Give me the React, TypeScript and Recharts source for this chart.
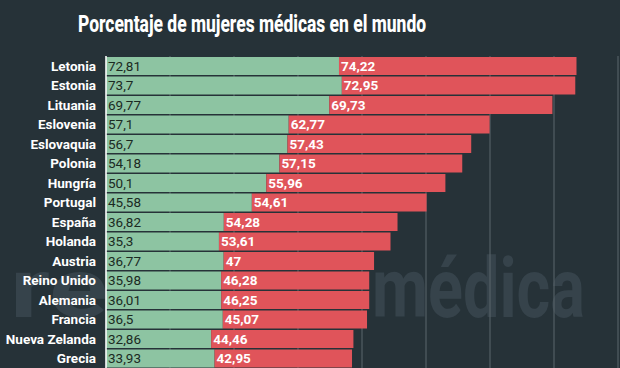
import { BarChart, Bar, XAxis, YAxis, CartesianGrid, LabelList } from 'recharts'

const countries = [
  'Letonia', 'Estonia', 'Lituania', 'Eslovenia', 'Eslovaquia', 'Polonia', 'Hungría', 'Portugal',
  'España', 'Holanda', 'Austria', 'Reino Unido', 'Alemania', 'Francia', 'Nueva Zelanda', 'Grecia',
]
const older = [72.81, 73.7, 69.77, 57.1, 56.7, 54.18, 50.1, 45.58, 36.82, 35.3, 36.77, 35.98, 36.01, 36.5, 32.86, 33.93]
const newer = [74.22, 72.95, 69.73, 62.77, 57.43, 57.15, 55.96, 54.61, 54.28, 53.61, 47, 46.28, 46.25, 45.07, 44.46, 42.95]
const xTicks = [0, 20, 40, 60, 80, 100, 120, 140, 160]

const data = countries.map((name, i) => ({ name, older: older[i], newer: newer[i] }))

const BG = '#263238'
const fmt = (v: unknown) => String(v).replace('.', ',')

export default function App() {
  return (
    <div style={{ position: 'fixed', left: 0, top: 0, width: 620, height: 368, background: BG, overflow: 'hidden', fontFamily: 'Roboto' }}>
      {/* watermark (mostly hidden by the bars) + title */}
      <svg width={620} height={368} style={{ position: 'absolute', left: 0, top: 0 }}>
        <g fontSize={84} fontWeight={700} fill="#36434b">
          <text x={10} y={317} textLength={98} lengthAdjust="spacingAndGlyphs">re</text>
          <text x={372} y={317} textLength={213} lengthAdjust="spacingAndGlyphs">médica</text>
        </g>
        <text x={78} y={32} fontSize={24} fontWeight={800} fill="#ffffff" textLength={348} lengthAdjust="spacingAndGlyphs">
          Porcentaje de mujeres médicas en el mundo
        </text>
      </svg>
      <div style={{ position: 'absolute', left: 0, top: 0 }}>
        <BarChart width={620} height={368} data={data} layout="vertical" margin={{ top: 56, right: 2, bottom: 0, left: 0 }} barSize={18}>
          <CartesianGrid horizontal={false} stroke="#5b666d" strokeWidth={1} />
          <XAxis type="number" domain={[0, 160]} ticks={xTicks} hide />
          <YAxis
            type="category"
            dataKey="name"
            width={106}
            tickLine={false}
            tickMargin={4}
            axisLine={{ stroke: '#ffffff', strokeWidth: 1.5 }}
            tick={{ fill: '#ffffff', fontSize: 13.5, fontWeight: 700, fontFamily: 'Roboto' }}
            interval={0}
          />
          <Bar dataKey="older" stackId="a" fill="#8dc4a2" isAnimationActive={false}>
            <LabelList dataKey="older" position="insideLeft" offset={2} formatter={fmt} fill="#1b2a22" fontSize={13.5} fontFamily="Roboto" />
          </Bar>
          <Bar dataKey="newer" stackId="a" fill="#e0545a" isAnimationActive={false}>
            <LabelList dataKey="newer" position="insideLeft" offset={2} formatter={fmt} fill="#ffffff" fontSize={13.5} fontWeight={700} fontFamily="Roboto" />
          </Bar>
        </BarChart>
      </div>
    </div>
  )
}
